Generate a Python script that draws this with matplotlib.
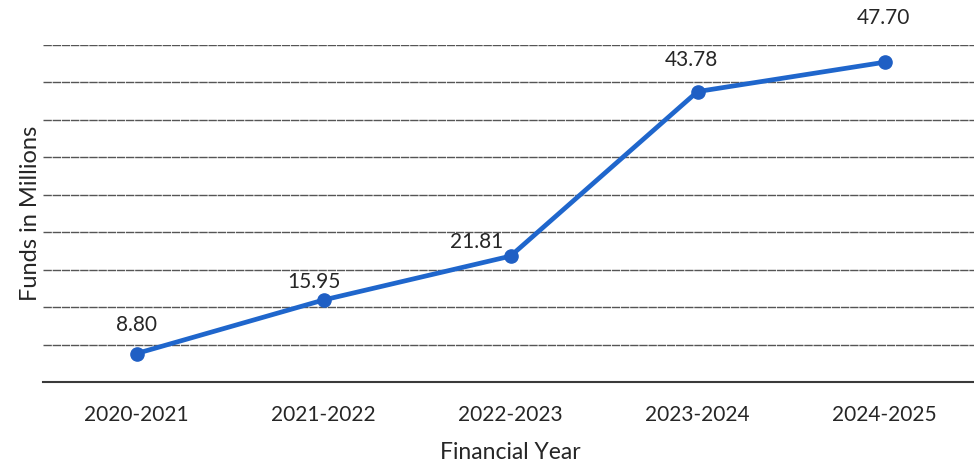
import matplotlib.pyplot as plt

years = ['2020-2021', '2021-2022', '2022-2023', '2023-2024', '2024-2025']
funds = [8.80, 15.95, 21.81, 43.78, 47.70]

# label offsets (pixels) relative to each point
label_offsets = [(0, 29), (-10, 18), (-34, 14), (-6, 32), (-1, 44)]

plt.rcParams['font.family'] = ['Lato', 'DejaVu Sans']

fig = plt.figure(figsize=(9.74, 4.65), dpi=100)
ax = fig.add_axes([43 / 974, 1 - 382 / 465, 935 / 974, (382 - 45) / 465])

x = list(range(len(years)))
ax.plot(x, funds, color='#1f66cc', linewidth=3.4, marker='o',
        markersize=9.5, markerfacecolor='#1f5fc4', markeredgecolor='#1f5fc4',
        zorder=3, solid_capstyle='round')

for xi, v, off in zip(x, funds, label_offsets):
    ax.annotate(f'{v:.2f}', (xi, v), xytext=off, textcoords='offset pixels',
                ha='center', va='center', fontsize=15, color='#262626')

ax.set_xlim(-0.5, len(years) - 0.5)
ax.set_ylim(5, 50)
ax.set_yticks(range(5, 51, 5))
ax.yaxis.grid(True, color='#555555', linewidth=1.0, linestyle=(0, (6, 0.6)))
ax.set_axisbelow(True)
ax.tick_params(axis='y', left=False, labelleft=False)
ax.tick_params(axis='x', bottom=False, labelsize=15, colors='#262626', pad=13)
ax.set_xticks(x)
ax.set_xticklabels(years)

for s in ['top', 'right', 'left']:
    ax.spines[s].set_visible(False)
ax.spines['bottom'].set_color('#3a3a3a')
ax.spines['bottom'].set_linewidth(1.5)

ax.set_xlabel('Financial Year', fontsize=16.5, color='#262626', labelpad=12)
ax.set_ylabel('Funds in Millions', fontsize=17, color='#262626')
ax.yaxis.set_label_coords(-0.002, 0.5)

fig.savefig('out.png', dpi=100)
